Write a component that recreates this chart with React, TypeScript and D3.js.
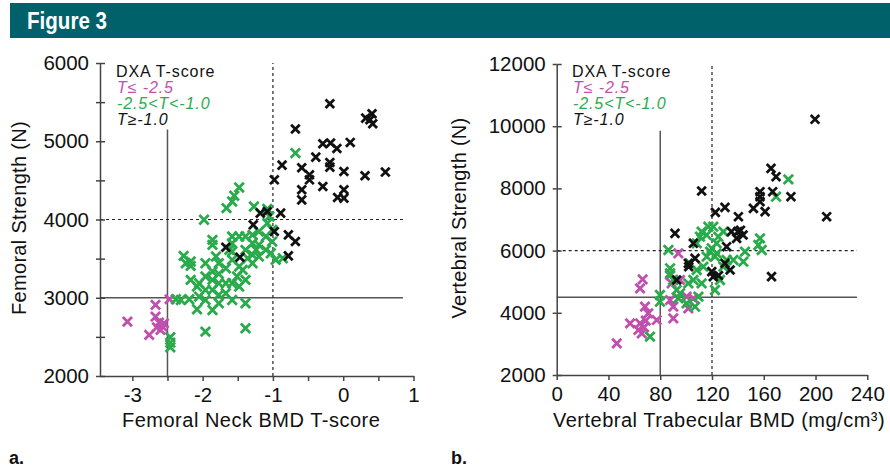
import React, { useEffect, useRef } from 'react';
import * as d3 from 'd3';

const W = 890;
const H = 468;

const MAGENTA = '#c14fae';
const GREEN = '#2aab4b';
const BLACK = '#111111';
const TEAL = '#00616b';
const FONT = '"Liberation Sans", Arial, Helvetica, sans-serif';

// legend text
const legendTitle = 'DXA T-score';
const legendItems = ['T\u2264 -2.5', '-2.5<T<-1.0', 'T\u2265-1.0'];

// a. femoral neck T-score vs femoral strength (N)
const femurLow: [number, number][] = [
  [-3.07, 2695], [-2.67, 2908], [-2.67, 2759], [-2.76, 2525], [-2.65, 2623],
  [-2.57, 2631], [-2.55, 2674], [-2.62, 2682], [-2.47, 2981], [-2.6, 2588],
];
const femurMid: [number, number][] = [
  [-0.68, 4849], [-1.48, 4409], [-1.55, 4303], [-1.58, 4230], [-1.66, 4145],
  [-1.27, 4166], [-1.08, 4136], [-1.98, 3996], [-1.08, 3953], [-1.86, 3740],
  [-1.86, 3676], [-2.27, 3535], [-2.17, 3463], [-2.17, 3407], [-2.17, 3228],
  [-2.08, 3143], [-1.96, 3441], [-1.86, 3335], [-1.77, 3305], [-1.67, 3377],
  [-1.58, 3484], [-1.58, 3591], [-1.58, 3697], [-1.48, 3782], [-1.39, 3612],
  [-1.29, 3804], [-1.29, 3697], [-1.29, 3548], [-1.2, 3846], [-1.2, 3676],
  [-1.1, 3782], [-1.1, 3612], [-1.01, 3868], [-1.01, 3718], [-0.96, 3484],
  [-0.86, 3505], [-1.29, 3441], [-1.48, 3399], [-1.58, 3185], [-1.67, 3185],
  [-1.77, 3185], [-1.86, 3100], [-1.96, 3100], [-2.05, 3015], [-1.96, 2972],
  [-2.08, 2853], [-2.31, 2972], [-2.38, 2981], [-2.19, 2981], [-1.86, 2844],
  [-1.77, 2930], [-1.77, 3036], [-1.58, 2972], [-1.39, 2930], [-1.39, 2610],
  [-1.96, 2567], [-2.46, 2495], [-2.46, 2426], [-2.46, 2367], [-1.51, 3271],
  [-1.62, 3612], [-1.81, 3527], [-1.39, 3228], [-1.48, 3143], [-1.67, 3058],
  [-1.86, 3228], [-1.96, 3271], [-1.05, 4038], [-1.24, 3612], [-1.39, 3782],
  [-1.2, 3527], [-1.03, 3569], [-2.24, 3441], [-1.58, 3782], [-1.77, 3441],
  [-2.05, 3185], [-1.36, 3505], [-1.43, 3356],
];
const femurHigh: [number, number][] = [
  [-0.19, 5480], [0.32, 5296], [0.41, 5352], [0.42, 5224], [0.38, 5275],
  [-0.68, 5156], [-0.29, 4968], [-0.18, 4977], [-0.09, 4908], [0.1, 4985],
  [-0.39, 4797], [-0.19, 4729], [-0.19, 4669], [-0.87, 4695], [-0.59, 4661],
  [-0.48, 4571], [-0.48, 4507], [0.01, 4614], [0.31, 4559], [0.6, 4606],
  [-0.98, 4507], [-0.29, 4422], [-0.59, 4380], [-0.59, 4251], [-0.08, 4281],
  [0.01, 4380], [0.01, 4273], [-0.89, 4081], [-1.18, 4081], [-1.08, 4102],
  [-1.28, 3932], [-0.98, 3846], [-0.78, 3804], [-0.68, 3719], [-0.78, 3535],
  [-1.67, 3646], [-1.47, 3518],
];

// b. vertebral trabecular BMD (mg/cm3) vs vertebral strength (N)
const spineLow: [number, number][] = [
  [46.4, 3018], [56.7, 3661], [63.1, 3447], [64.4, 3661], [65.7, 3340],
  [67.5, 3533], [68.8, 3747], [64.4, 4787], [66.4, 5076], [68.2, 4197],
  [70.8, 3983], [77.3, 3768], [87.6, 5216], [88.8, 4947], [87.6, 4411],
  [90.1, 4197], [90.1, 3822], [94, 5912], [100.4, 4519], [101.7, 4143],
  [105.6, 4465], [95.3, 5055],
];
const spineMid: [number, number][] = [
  [179, 8291], [169.5, 7734], [157.1, 6394], [158.4, 6019], [155.8, 6180],
  [145.5, 5966], [144.2, 5644], [136.5, 5698], [131.3, 5698], [117.2, 6769],
  [121, 6769], [112, 6609], [115.9, 6502], [123.6, 6234], [119.8, 6073],
  [118.5, 5966], [123.6, 5912], [128.8, 6609], [122.3, 5805], [128.8, 5483],
  [126.2, 5055], [122.3, 4733], [110.7, 6448], [108.2, 6234], [113.3, 5483],
  [112, 4947], [109.5, 4519], [106.9, 4197], [103, 5591], [108.2, 5376],
  [86.3, 6019], [87.6, 5430], [87.6, 5269], [90.1, 5055], [92.7, 4733],
  [94, 4465], [79.8, 4572], [79.8, 4358], [72.1, 3233], [105.6, 5055],
  [100.4, 4304], [124.9, 6448], [115.9, 5805], [101.7, 4947], [95.3, 4626],
];
const spineHigh: [number, number][] = [
  [199.6, 10221], [208.6, 7091], [165.6, 8645], [169.5, 8377], [181, 7734],
  [166.9, 7895], [157.1, 7895], [157.1, 7734], [157.1, 7573], [152, 7359],
  [161, 7252], [112, 7916], [122.6, 7230], [130, 7391], [140.4, 7091],
  [135, 6609], [140, 6609], [144, 6502], [139, 6394], [131.3, 6126],
  [91.4, 6555], [105.6, 6234], [101.7, 5591], [106.9, 5751], [130, 5591],
  [134, 5376], [119.8, 5323], [121, 5162], [166, 5162], [92.7, 5055],
  [102, 5480], [142, 6650], [125, 5200],
];

const femurXTicks = [-3, -2.5, -2, -1.5, -1, -0.5, 0, 0.5, 1];
const femurYTicks = [2000, 2500, 3000, 3500, 4000, 4500, 5000, 5500, 6000];
const spineXTicks = [0, 40, 80, 120, 160, 200, 240];
const spineYTicks = [2000, 4000, 6000, 8000, 10000, 12000];

type Panel = {
  x: d3.ScaleLinear<number, number>;
  y: d3.ScaleLinear<number, number>;
  xTicks: number[];
  yTicks: number[];
  xLabelFn: (d: number) => string;
  yLabelFn: (d: number) => string;
  solidX: number; solidXTop: number;
  solidY: number;
  dashX: number;
  dashY: number;
  refEnd: number;
  series: [number, number][][];
  xTitle: string; xTitleX: number;
  yTitle: string; yTitleX: number;
  legendX: number;
  tag: string; tagX: number;
};

function drawPanel(svg: d3.Selection<SVGSVGElement, unknown, null, undefined>, p: Panel) {
  const g = svg.append('g');
  const [x0] = p.x.range();
  const [y0, y1] = p.y.range();

  // reference lines
  g.append('line')
    .attr('x1', p.x(p.solidX)).attr('x2', p.x(p.solidX))
    .attr('y1', y0).attr('y2', p.y(p.solidXTop))
    .attr('stroke', '#555').attr('stroke-width', 1.5);
  g.append('line')
    .attr('x1', x0).attr('x2', p.x(p.refEnd))
    .attr('y1', p.y(p.solidY)).attr('y2', p.y(p.solidY))
    .attr('stroke', '#555').attr('stroke-width', 1.5);
  g.append('line')
    .attr('x1', p.x(p.dashX)).attr('x2', p.x(p.dashX))
    .attr('y1', y0).attr('y2', y1)
    .attr('stroke', '#222').attr('stroke-width', 1.2).attr('stroke-dasharray', '3,3');
  g.append('line')
    .attr('x1', x0).attr('x2', p.x(p.refEnd))
    .attr('y1', p.y(p.dashY)).attr('y2', p.y(p.dashY))
    .attr('stroke', '#222').attr('stroke-width', 1.2).attr('stroke-dasharray', '3,3');

  // axes
  const xAxis = g.append('g')
    .attr('transform', `translate(0,${y0})`)
    .call(d3.axisBottom(p.x).tickValues(p.xTicks).tickSize(5).tickSizeOuter(0)
      .tickPadding(6).tickFormat(d => p.xLabelFn(+d)));
  const yAxis = g.append('g')
    .attr('transform', `translate(${x0},0)`)
    .call(d3.axisLeft(p.y).tickValues(p.yTicks).tickSize(4).tickSizeOuter(0)
      .tickPadding(7).tickFormat(d => p.yLabelFn(+d)));
  g.append('g')
    .attr('transform', `translate(${x0},0)`)
    .call(d3.axisRight(p.y).tickValues(p.yTicks).tickSize(5).tickSizeOuter(0).tickFormat(() => ''))
    .call(s => s.select('.domain').remove());

  [xAxis, yAxis].forEach(a => {
    a.attr('font-family', FONT).attr('font-size', 20.5);
    a.selectAll('text').attr('fill', '#111');
  });
  g.selectAll('.domain, .tick line').attr('stroke', '#444').attr('stroke-width', 1.5);
  xAxis.selectAll('text').attr('dy', '0.71em');

  // points
  const colors = [MAGENTA, GREEN, BLACK];
  const sizes = [4.6, 4.7, 4.3];
  p.series.forEach((pts, i) => {
    const r = sizes[i];
    g.append('g')
      .selectAll('path')
      .data(pts)
      .enter()
        .append('path')
          .attr('transform', d => `translate(${p.x(d[0])},${p.y(d[1])})`)
          .attr('d', `M${-r},${-r}L${r},${r}M${-r},${r}L${r},${-r}`)
          .attr('fill', 'none')
          .attr('stroke', colors[i])
          .attr('stroke-width', 2.8);
  });

  // legend
  g.append('text').attr('x', p.legendX).attr('y', 77)
    .attr('font-family', FONT).attr('font-size', 16).attr('letter-spacing', 0.9)
    .attr('fill', '#111')
    .text(legendTitle);
  legendItems.forEach((t, i) => {
    g.append('text').attr('x', p.legendX + 1).attr('y', 93 + i * 16)
      .attr('font-family', FONT).attr('font-size', 16).attr('letter-spacing', 0.9)
      .attr('font-style', 'italic')
      .attr('fill', colors[i])
      .text(t);
  });

  // titles
  g.append('text').attr('x', p.xTitleX).attr('y', 427)
    .attr('font-family', FONT).attr('font-size', 20).attr('letter-spacing', 0.5)
    .attr('fill', '#111')
    .text(p.xTitle);
  g.append('text')
    .attr('transform', `translate(${p.yTitleX},218) rotate(-90)`)
    .attr('text-anchor', 'middle')
    .attr('font-family', FONT).attr('font-size', 20).attr('letter-spacing', 0.3)
    .attr('fill', '#111')
    .text(p.yTitle);
  g.append('text').attr('x', p.tagX).attr('y', 464)
    .attr('font-family', FONT).attr('font-weight', 'bold')
    .attr('font-size', 18).attr('fill', '#111')
    .text(p.tag);
}

export default function App() {
  const ref = useRef<SVGSVGElement>(null);

  useEffect(() => {
    const svg = d3.select(ref.current!);
    svg.selectAll('*').remove();

    // header bar
    svg.append('rect').attr('x', 10).attr('y', 3).attr('width', W - 10).attr('height', 35).attr('fill', TEAL);
    svg.append('text').attr('x', 27).attr('y', 29)
      .attr('font-family', FONT)
      .attr('font-weight', 'bold').attr('font-size', 23).attr('fill', '#fff')
      .attr('textLength', 80).attr('lengthAdjust', 'spacingAndGlyphs')
      .text('Figure 3');

    drawPanel(svg, {
      x: d3.scaleLinear().domain([-3.46, 1]).range([100, 413.5]),
      y: d3.scaleLinear().domain([2000, 6000]).range([376, 63]),
      xTicks: femurXTicks,
      yTicks: femurYTicks,
      xLabelFn: d => (Number.isInteger(d) ? String(d) : ''),
      yLabelFn: d => (d % 1000 === 0 ? String(d) : ''),
      solidX: -2.5, solidXTop: 5150,
      solidY: 3000,
      dashX: -1,
      dashY: 4000,
      refEnd: 0.85,
      series: [femurLow, femurMid, femurHigh],
      xTitle: 'Femoral Neck BMD T-score', xTitleX: 122,
      yTitle: 'Femoral Strength (N)', yTitleX: 26,
      legendX: 116,
      tag: 'a.', tagX: 9,
    });

    drawPanel(svg, {
      x: d3.scaleLinear().domain([0, 240]).range([556.7, 867.3]),
      y: d3.scaleLinear().domain([2000, 12000]).range([375, 64]),
      xTicks: spineXTicks,
      yTicks: spineYTicks,
      xLabelFn: d => String(d),
      yLabelFn: d => String(d),
      solidX: 80, solidXTop: 9850,
      solidY: 4500,
      dashX: 120,
      dashY: 6000,
      refEnd: 232,
      series: [spineLow, spineMid, spineHigh],
      xTitle: 'Vertebral Trabecular BMD (mg/cm\u00b3)', xTitleX: 553,
      yTitle: 'Vertebral Strength (N)', yTitleX: 466,
      legendX: 572,
      tag: 'b.', tagX: 451,
    });
  }, []);

  return (
    <svg ref={ref} width={W} height={H}
      style={{ position: 'absolute', left: 0, top: 0, background: '#fff', display: 'block' }} />
  );
}
